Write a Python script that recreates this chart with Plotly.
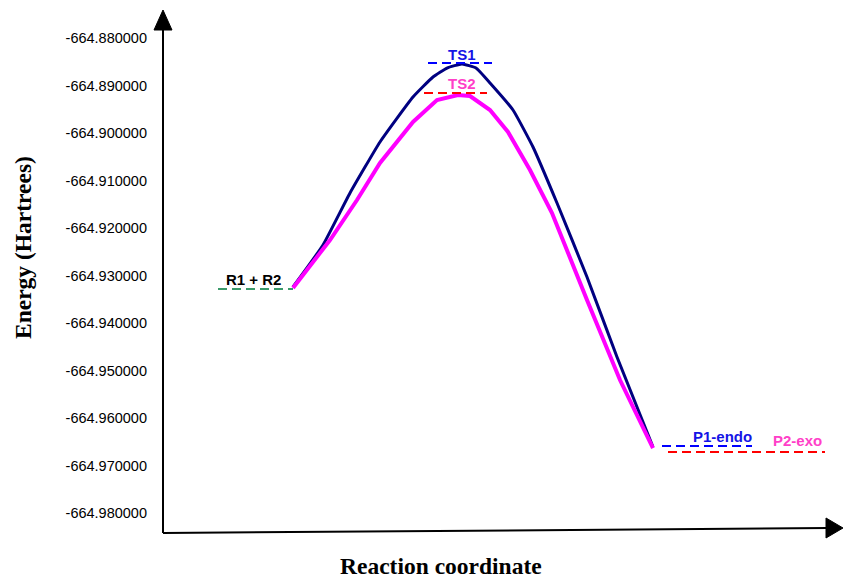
import plotly.graph_objects as go

# Reaction coordinate (arbitrary units) and energies (Hartrees)
rc_ts1 = [130, 160, 187, 217, 250, 270, 284, 299, 313, 327, 350, 370, 394, 424, 454, 490]
e_ts1 = [-664.93242, -664.92358, -664.91263, -664.90189, -664.89242, -664.88821, -664.88632,
         -664.88547, -664.88632, -664.88947, -664.89516, -664.90295, -664.91474, -664.93032,
         -664.94716, -664.96611]

rc_ts2 = [130, 167, 194, 217, 250, 274, 295, 307, 327, 345, 367, 389, 424, 457, 490]
e_ts2 = [-664.93263, -664.92253, -664.91411, -664.90632, -664.89768, -664.89305, -664.89200,
         -664.89221, -664.89516, -664.89979, -664.90779, -664.91684, -664.93516, -664.95200,
         -664.96632]

level_names = ["R1 + R2", "TS1", "TS2", "P1-endo", "P2-exo"]
level_x0 = [55, 265, 261, 499, 505]
level_x1 = [130, 329, 324, 589, 662]
level_e = [-664.93284, -664.88526, -664.89158, -664.96589, -664.96716]
level_line_colors = ["#3A9A6A", "#0000FF", "#FF0000", "#0000FF", "#FF0000"]
label_colors = ["#000000", "#1414E6", "#FF3FC8", "#1414E6", "#FF3FC8"]
label_x = [90, 299, 299, 559, 634]
label_e = [-664.93074, -664.88337, -664.88968, -664.96379, -664.96484]

tick_vals = [-664.88, -664.89, -664.90, -664.91, -664.92, -664.93, -664.94, -664.95, -664.96, -664.97, -664.98]
tick_text = ["-664.880000", "-664.890000", "-664.900000", "-664.910000", "-664.920000", "-664.930000",
             "-664.940000", "-664.950000", "-664.960000", "-664.970000", "-664.980000"]

W, H = 843, 578
L, R, T, B = 163, 0, 10, 45

fig = go.Figure()

fig.add_trace(go.Scatter(x=rc_ts1, y=e_ts1, mode="lines",
                         line=dict(color="#000080", width=3, shape="spline", smoothing=0.4),
                         hoverinfo="skip"))
fig.add_trace(go.Scatter(x=rc_ts2, y=e_ts2, mode="lines", line=dict(color="#FF00FF", width=4),
                         hoverinfo="skip"))

for name, x0, x1, e, c in zip(level_names, level_x0, level_x1, level_e, level_line_colors):
    fig.add_trace(go.Scatter(x=[x0, x1], y=[e, e], mode="lines",
                             line=dict(color=c, width=2, dash="9px,5px"), hoverinfo="skip"))

for name, x, e, c in zip(level_names, label_x, label_e, label_colors):
    fig.add_annotation(x=x, y=e, xref="x", yref="y", text="<b>%s</b>" % name, showarrow=False,
                       xanchor="center", yanchor="middle",
                       font=dict(family="Arial, Liberation Sans", size=15, color=c))

def px(xp):
    return (xp - L) / (W - L - R)

def py(yp):
    return (H - B - yp) / (H - T - B)

# axis lines with arrow heads
fig.add_shape(type="line", xref="paper", yref="paper", x0=px(163), y0=py(533), x1=px(163), y1=py(28),
              line=dict(color="black", width=2))
fig.add_shape(type="path", xref="paper", yref="paper",
              path="M %f %f L %f %f L %f %f Z" % (px(154), py(30), px(163), py(10), px(172), py(30)),
              fillcolor="black", line=dict(color="black", width=1))
fig.add_shape(type="line", xref="paper", yref="paper", x0=px(163), y0=py(533), x1=px(828), y1=py(528),
              line=dict(color="black", width=2))
fig.add_shape(type="path", xref="paper", yref="paper",
              path="M %f %f L %f %f L %f %f Z" % (px(826), py(518), px(843), py(528), px(826), py(538)),
              fillcolor="black", line=dict(color="black", width=1))

fig.add_annotation(xref="paper", yref="paper", x=px(23), y=py(248), text="<b>Energy (Hartrees)</b>",
                   textangle=-90, showarrow=False, xanchor="center", yanchor="middle",
                   font=dict(family="Liberation Serif, Times New Roman", size=23.5, color="black"))
fig.add_annotation(xref="paper", yref="paper", x=px(441), y=py(566), text="<b>Reaction coordinate</b>",
                   showarrow=False, xanchor="center", yanchor="middle",
                   font=dict(family="Liberation Serif, Times New Roman", size=23.5, color="black"))

y_top = -664.88 + (38 - T) / 4750.0
y_bot = -664.88 - (H - B - 38) / 4750.0

fig.update_layout(
    width=W, height=H,
    margin=dict(l=L, r=R, t=T, b=B),
    paper_bgcolor="white", plot_bgcolor="white",
    showlegend=False,
    xaxis=dict(range=[0, W - L - R], visible=False),
    yaxis=dict(range=[y_bot, y_top], tickvals=tick_vals, ticktext=tick_text,
               showgrid=False, zeroline=False, showline=False, ticks="",
               ticklabelstandoff=15,
               tickfont=dict(family="Arial, Liberation Sans", size=14.5, color="black")),
)

fig.write_html("out.html", config={"displayModeBar": False},
               post_script="document.body.style.margin='0px';document.body.style.overflow='hidden';")
